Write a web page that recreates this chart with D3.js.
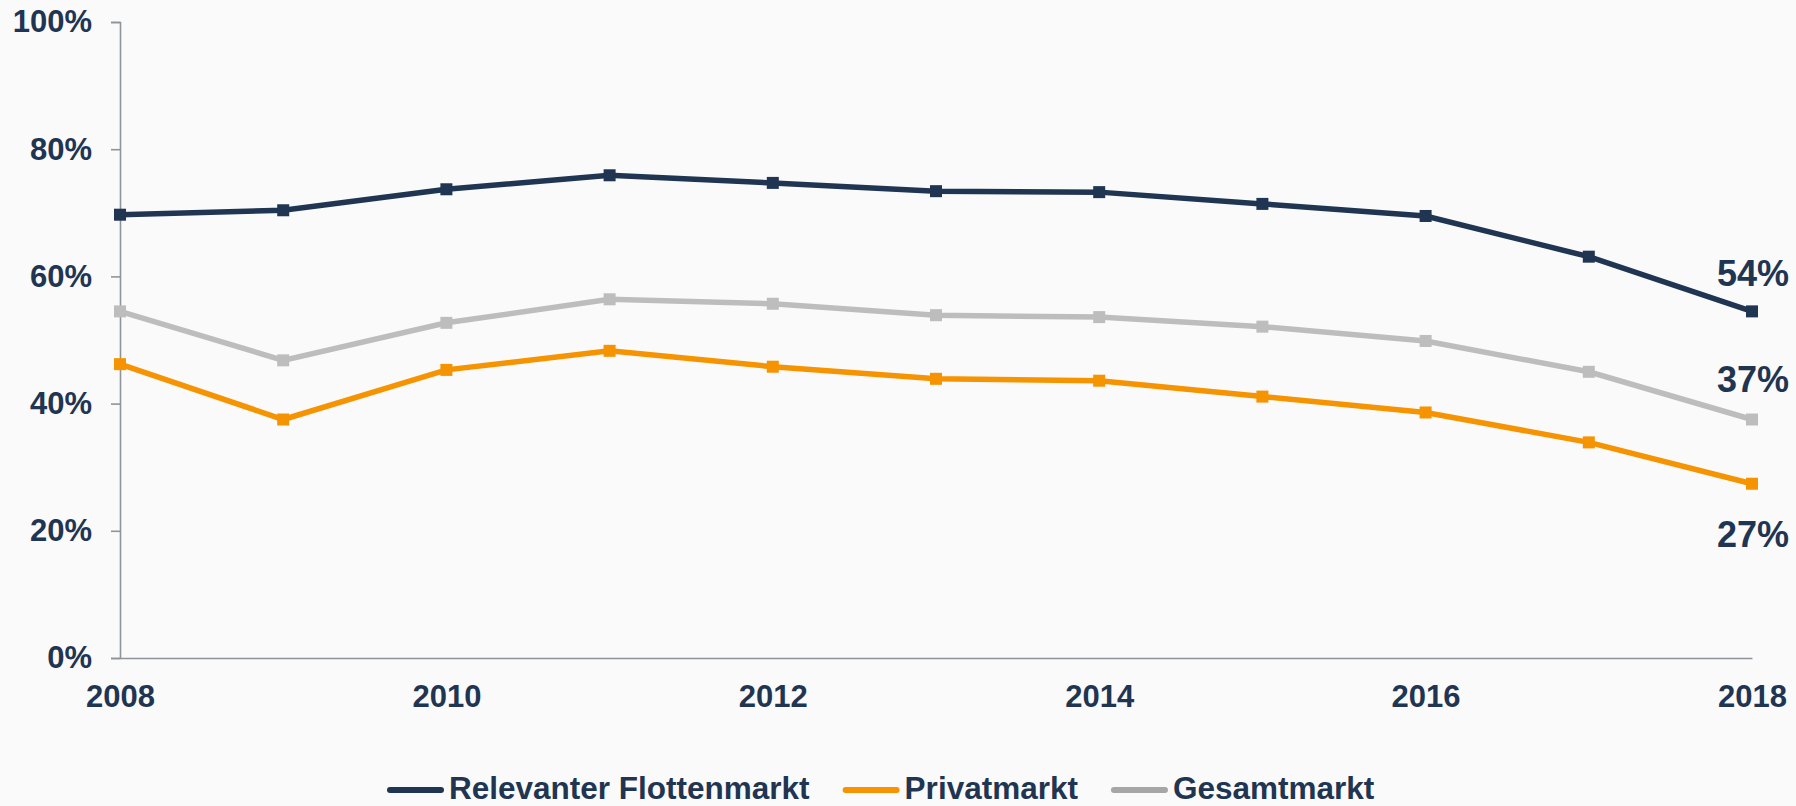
<!DOCTYPE html>
<html>
<head>
<meta charset="utf-8">
<script src="https://cdnjs.cloudflare.com/ajax/libs/d3/7.8.5/d3.min.js"></script>
<style>
  body { margin: 0; background: #fafafa; }
  svg { display: block; }
  text { font-family: "Liberation Sans", Arial, sans-serif; font-weight: bold; fill: #1f3552; }
</style>
</head>
<body>
<svg id="chart"></svg>
<script>
var years = [2008, 2009, 2010, 2011, 2012, 2013, 2014, 2015, 2016, 2017, 2018];
var xTicks = [2008, 2010, 2012, 2014, 2016, 2018];
var yTicks = [0, 20, 40, 60, 80, 100];

var flotte = [69.7, 70.4, 73.7, 75.9, 74.7, 73.4, 73.25, 71.4, 69.5, 63.1, 54.5];
var privat = [46.2, 37.5, 45.3, 48.3, 45.8, 43.9, 43.6, 41.1, 38.6, 33.9, 27.4];
var gesamt = [54.5, 46.8, 52.7, 56.4, 55.7, 53.9, 53.6, 52.1, 49.85, 45.0, 37.5];

var seriesNames = ["Relevanter Flottenmarkt", "Privatmarkt", "Gesamtmarkt"];
var endLabels = ["54%", "27%", "37%"];

var W = 1796, H = 806;
var margin = {top: 22, right: 44, bottom: 148, left: 120};
var width = W - margin.left - margin.right,
    height = H - margin.top - margin.bottom;

var series = [
  {name: seriesNames[0], values: flotte, color: "#1f3552", legend: "#1f3552", label: endLabels[0], labelY: 286},
  {name: seriesNames[1], values: privat, color: "#f59300", legend: "#f59300", label: endLabels[1], labelY: 547},
  {name: seriesNames[2], values: gesamt, color: "#bdbdbd", legend: "#a6a6a6", label: endLabels[2], labelY: 392}
];

var svg = d3.select("#chart").attr("width", W).attr("height", H);
var g = svg.append("g").attr("transform", "translate(" + margin.left + "," + margin.top + ")");

var x = d3.scaleLinear().domain([2008, 2018]).range([0, width]);
var y = d3.scaleLinear().domain([0, 100]).range([height, 0]);

// y axis
var yAxis = g.append("g")
    .call(d3.axisLeft(y).tickValues(yTicks).tickSize(9).tickFormat(function(d) { return d + "%"; }));
yAxis.select(".domain").attr("stroke", "#8f949b").attr("stroke-width", 1.6);
yAxis.selectAll(".tick line").attr("stroke", "#8f949b").attr("stroke-width", 1.6);
yAxis.selectAll(".tick text")
    .attr("x", -28)
    .attr("fill", "#1f3552")
    .style("font-size", "31px")
    .style("font-family", "'Liberation Sans', Arial, sans-serif")
    .style("font-weight", "bold");

// x axis
var xAxis = g.append("g")
    .attr("transform", "translate(0," + height + ")")
    .call(d3.axisBottom(x).tickValues(xTicks).tickSize(0).tickFormat(d3.format("d")));
xAxis.select(".domain").attr("stroke", "#8f949b").attr("stroke-width", 1.6);
xAxis.selectAll(".tick text")
    .attr("y", 27)
    .attr("dy", "0.71em")
    .attr("fill", "#1f3552")
    .style("font-size", "31px")
    .style("font-family", "'Liberation Sans', Arial, sans-serif")
    .style("font-weight", "bold");

var line = d3.line()
    .x(function(d, i) { return x(years[i]); })
    .y(function(d) { return y(d); });

// gray first, then orange, navy on top
[series[2], series[1], series[0]].forEach(function(s) {
  g.append("path")
      .datum(s.values)
      .attr("fill", "none")
      .attr("stroke", s.color)
      .attr("stroke-width", 5.5)
      .attr("d", line);

  g.selectAll(null)
      .data(s.values)
    .enter().append("rect")
      .attr("fill", s.color)
      .attr("x", function(d, i) { return x(years[i]) - 6; })
      .attr("y", function(d) { return y(d) - 6; })
      .attr("width", 12)
      .attr("height", 12);
});

// end labels
series.forEach(function(s) {
  svg.append("text")
      .attr("x", margin.left + x(2018) + 1)
      .attr("y", s.labelY)
      .attr("text-anchor", "middle")
      .style("font-size", "36px")
      .text(s.label);
});

// legend
var lx = 387, ly = 790;
series.forEach(function(s) {
  svg.append("line")
      .attr("x1", lx + 3).attr("x2", lx + 54)
      .attr("y1", ly).attr("y2", ly)
      .attr("stroke", s.legend)
      .attr("stroke-width", 6)
      .attr("stroke-linecap", "round");
  var t = svg.append("text")
      .attr("x", lx + 62)
      .attr("y", ly + 9)
      .style("font-size", "31.5px")
      .text(s.name);
  lx = lx + 62 + t.node().getComputedTextLength() + 33;
});
</script>
</body>
</html>
